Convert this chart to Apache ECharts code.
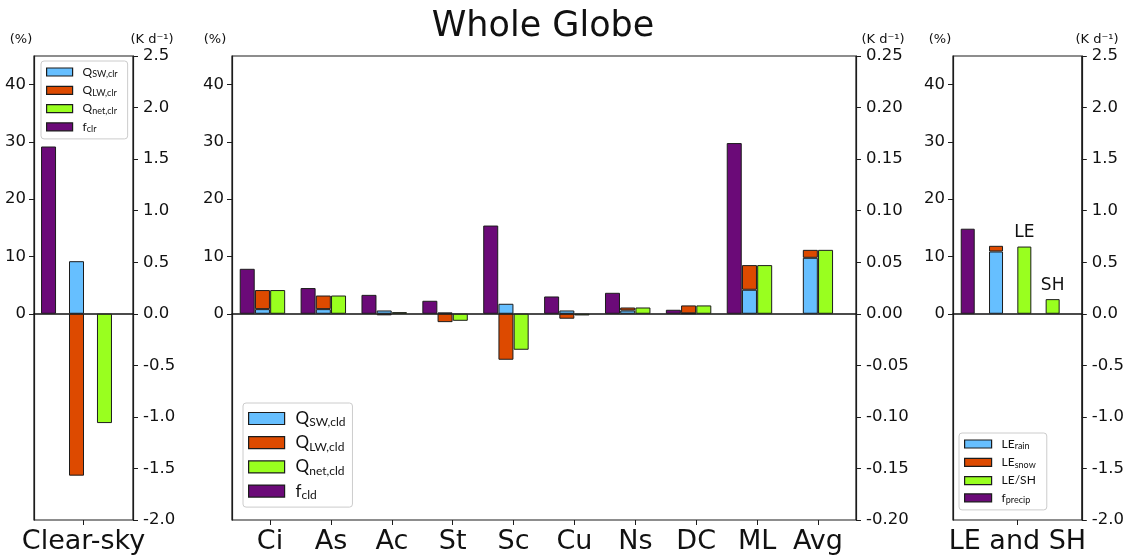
<!DOCTYPE html>
<html><head><meta charset="utf-8">
<script src="https://cdn.jsdelivr.net/npm/echarts@6/dist/echarts.min.js"></script>
<style>html,body{margin:0;padding:0;background:#fff}#c{width:1127px;height:556px}</style>
</head><body><div id="c"></div>
<script>
// ---------------- data ----------------
const titleText = 'Whole Globe';
const pctTicks = [0, 10, 20, 30, 40];

// Clear-sky panel
const clrCategory = ['Clear-sky'];
const clrF = [29.2];
const clrSW = [0.51];
const clrLW = [-1.57];
const clrNet = [-1.06];

// Cloud-type panel
const cldCats = ['Ci', 'As', 'Ac', 'St', 'Sc', 'Cu', 'Ns', 'DC', 'ML', 'Avg'];
const cldF   = [7.85, 4.49, 3.3, 2.27, 15.4, 3.02, 3.66, 0.7, 29.8, null];
const cldSW  = [0.0045, 0.0045, 0.0032, 0.0013, 0.0097, 0.0032, 0.0032, 0.0004, 0.0233, 0.0543];
const cldLW  = [0.0185, 0.0132, -0.0015, -0.0081, -0.0446, -0.0048, 0.0029, 0.0077, 0.0239, 0.0077];
const cldNet = [0.023, 0.0177, 0.0016, -0.0068, -0.0349, -0.0016, 0.0061, 0.0081, 0.0472, 0.062];

// LE and SH panel
const leCategory = ['LE and SH'];
const leF = [14.85];
const leRain = [0.604];
const leSnow = [0.055];
const leSh = [0.652, 0.142];
const leShLabels = ['LE', 'SH'];

// ---------------- style ----------------
const FONT = 'DejaVu Sans';
const LFONT = 'Lato';
const C_SW = '#66BFFF', C_LW = '#DD4A00', C_NET = '#99FF1F', C_F = '#6B0A78';
const EDGE = '#1c1c1c';
const TXT = '#111';

const chart = echarts.init(document.getElementById('c'), null, {renderer: 'canvas'});

const grids = [
  {left: 34, top: 56, width: 99, height: 464},
  {left: 232, top: 56, width: 624, height: 464},
  {left: 953, top: 56, width: 129, height: 464}
].map(g => Object.assign(g, {show: true, borderColor: EDGE, borderWidth: 1.2, backgroundColor: 'transparent'}));

function pctAxis(gi) {
  return {type: 'value', gridIndex: gi, position: 'left', min: -36, max: 45,
    axisLine: {show: true, onZero: false, lineStyle: {color: EDGE, width: 1.2}},
    axisTick: {show: true, length: 5, customValues: pctTicks, lineStyle: {color: EDGE}},
    axisLabel: {customValues: pctTicks, fontSize: 16.5, fontFamily: FONT, color: TXT, margin: 8},
    splitLine: {show: false}};
}
function kAxis(gi, min, max, interval, dec) {
  return {type: 'value', gridIndex: gi, position: 'right', min, max, interval,
    axisLine: {show: true, onZero: false, lineStyle: {color: EDGE, width: 1.2}},
    axisTick: {show: true, length: 5, lineStyle: {color: EDGE}},
    axisLabel: {fontSize: 16.5, fontFamily: FONT, color: TXT, margin: 10, formatter: v => v.toFixed(dec)},
    splitLine: {show: false}};
}
function zeroAxis(gi, min, max) {
  return {type: 'value', gridIndex: gi, min, max, position: 'bottom',
    axisLine: {show: true, onZero: true, lineStyle: {color: '#111', width: 1.6}},
    axisTick: {show: false}, axisLabel: {show: false}, splitLine: {show: false}};
}
function catAxis(gi, data) {
  return {type: 'category', gridIndex: gi, data, position: 'bottom', boundaryGap: true,
    axisLine: {show: false, onZero: false},
    axisTick: {show: true, alignWithLabel: true, length: 5, lineStyle: {color: EDGE}},
    axisLabel: {fontSize: 27, fontFamily: FONT, color: TXT, margin: 8},
    splitLine: {show: false}};
}
const cldPos = cldCats.map((_, i) => i);

const xAxes = [
  zeroAxis(0, -0.52, 3.02),
  catAxis(0, clrCategory),
  zeroAxis(1, -0.625, 9.625),
  {type: 'value', gridIndex: 1, min: -0.625, max: 9.625, position: 'bottom',
    axisLine: {show: false, onZero: false},
    axisTick: {show: true, length: 5, customValues: cldPos, lineStyle: {color: EDGE}},
    axisLabel: {customValues: cldPos, fontSize: 27, fontFamily: FONT, color: TXT, margin: 8,
      formatter: v => cldCats[Math.round(v)]},
    splitLine: {show: false}},
  zeroAxis(2, -0.52, 4.03),
  catAxis(2, leCategory)
];
const yAxes = [
  pctAxis(0), kAxis(0, -2, 2.5, 0.5, 1),
  pctAxis(1), kAxis(1, -0.2, 0.25, 0.05, 2),
  pctAxis(2), kAxis(2, -2, 2.5, 0.5, 1)
];

// data items are [value, position] so that stacking acts on the value dimension
function bar(name, xi, yi, color, data, width, extra) {
  return Object.assign({name, type: 'bar', xAxisIndex: xi, yAxisIndex: yi, barWidth: width, barGap: '-100%',
    encode: {x: 1, y: 0},
    itemStyle: {color, borderColor: EDGE, borderWidth: 1}, emphasis: {disabled: true}, data}, extra || {});
}

const series = [
  // Clear-sky
  bar('f_clr', 0, 0, C_F, clrF.map(v => [v, 0]), 15),
  bar('Q_SW,clr', 0, 1, C_SW, clrSW.map(v => [v, 1]), 15, {stack: 'clr'}),
  bar('Q_LW,clr', 0, 1, C_LW, clrLW.map(v => [v, 1]), 15, {stack: 'clr'}),
  bar('Q_net,clr', 0, 1, C_NET, clrNet.map(v => [v, 2]), 15),
  // Cloud types
  bar('f_cld', 2, 2, C_F, cldF.map((v, i) => [v, i - 0.375]), 15),
  bar('Q_SW,cld', 2, 3, C_SW, cldSW.map((v, i) => [v, i - 0.125]), 15, {stack: 'cld'}),
  bar('Q_LW,cld', 2, 3, C_LW, cldLW.map((v, i) => [v, i - 0.125]), 15, {stack: 'cld'}),
  bar('Q_net,cld', 2, 3, C_NET, cldNet.map((v, i) => [v, i + 0.125]), 15),
  // LE and SH
  bar('f_precip', 4, 4, C_F, leF.map(v => [v, 0]), 14),
  bar('LE_rain', 4, 5, C_SW, leRain.map(v => [v, 1]), 14, {stack: 'le'}),
  bar('LE_snow', 4, 5, C_LW, leSnow.map(v => [v, 1]), 14, {stack: 'le'}),
  bar('LE/SH', 4, 5, C_NET, leSh.map((v, i) => [v, 2 + i]), 14,
    {label: {show: true, position: 'top', distance: 5, fontSize: 17, fontFamily: FONT, color: TXT,
      formatter: p => leShLabels[p.dataIndex]}})
];

function legendFmt(name) {
  const k = name.indexOf('_');
  if (k < 0) return '{sp|}{m|' + name + '}';
  return '{sp|}{m|' + name.slice(0, k) + '}{s|' + name.slice(k + 1) + '}';
}
function legend(data, left, top, iw, ih, gap, fm, fs, lh, sp, pad) {
  return {data, left, top, orient: 'vertical', itemWidth: iw, itemHeight: ih, itemGap: gap,
    icon: 'rect', selectedMode: false, padding: pad,
    backgroundColor: 'rgba(255,255,255,0.85)', borderColor: '#cccccc', borderWidth: 1, borderRadius: 3,
    itemStyle: {borderColor: EDGE, borderWidth: 1.2},
    formatter: legendFmt,
    textStyle: {color: TXT, rich: {
      sp: {width: sp},
      m: {fontSize: fm, lineHeight: lh, fontFamily: LFONT, color: TXT},
      s: {fontSize: fs, lineHeight: Math.round(fs * 0.7), verticalAlign: 'bottom', fontFamily: LFONT, color: TXT}
    }}};
}

const legends = [
  legend(['Q_SW,clr', 'Q_LW,clr', 'Q_net,clr', 'f_clr'], 41, 61, 26, 8, 5.3, 12, 9, 14, 5, [5, 10, 5, 5]),
  legend(['Q_SW,cld', 'Q_LW,cld', 'Q_net,cld', 'f_cld'], 243, 403, 36, 12, 5.7, 17, 12, 20, 6, [7, 7, 6, 5]),
  legend(['LE_rain', 'LE_snow', 'LE/SH', 'f_precip'], 959, 433, 27, 8, 5.3, 12, 9, 14, 5, [5, 11, 5, 5])
];

function txt(x, y, text, size, extra) {
  return Object.assign({type: 'text', x, y, silent: true,
    style: {text, fontSize: size, fontFamily: FONT, fill: TXT, align: 'center', verticalAlign: 'middle'}}, extra || {});
}
const graphics = [
  txt(543, 27, titleText, 35),
  txt(21, 40, '(%)', 13), txt(152, 40, '(K d\u207B\u00B9)', 13),
  txt(215, 40, '(%)', 13), txt(883, 40, '(K d\u207B\u00B9)', 13),
  txt(940, 40, '(%)', 13), txt(1097, 40, '(K d\u207B\u00B9)', 13)
];

chart.setOption({
  animation: false,
  backgroundColor: '#fff',
  grid: grids,
  xAxis: xAxes,
  yAxis: yAxes,
  legend: legends,
  series,
  graphic: graphics
});
</script></body></html>
